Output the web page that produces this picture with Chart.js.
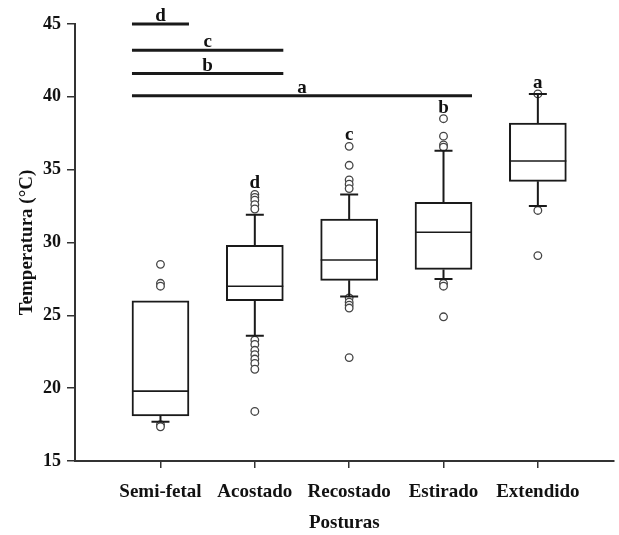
<!DOCTYPE html>
<html>
<head>
<meta charset="utf-8">
<script src="https://cdn.jsdelivr.net/npm/chart.js@4.4.1/dist/chart.umd.min.js"></script>
<style>
  html, body { margin: 0; padding: 0; background: #fff; }
  #wrap { width: 619px; height: 535px; }
</style>
</head>
<body>
<div id="wrap"><canvas id="grafico"></canvas></div>
<script>
// datos
const posturas = ["Semi-fetal", "Acostado", "Recostado", "Estirado", "Extendido"];
const q1 = [18.1, 26.0, 27.4, 28.15, 34.2];
const mediana = [19.8, 27.0, 28.8, 30.7, 35.6];
const q3 = [26.0, 29.8, 31.6, 32.75, 38.2];
const bigoteInf = [17.7, 23.6, 26.3, 27.5, 32.5];
const bigoteSup = [null, 31.9, 33.3, 36.3, 40.2];
const atipicos = [
  [28.5, 27.2, 27.0, 17.5, 17.35],
  [33.3, 33.1, 32.9, 32.6, 32.3, 23.3, 23.0, 22.6, 22.3, 22.0, 21.7, 21.3, 18.4],
  [36.6, 35.3, 34.3, 34.0, 33.7, 26.2, 25.9, 25.7, 25.5, 22.1],
  [38.5, 37.3, 36.7, 36.55, 27.2, 27.0, 24.9],
  [40.2, 32.2, 29.1]
];
const letrasCaja = ["", "d", "c", "b", "a"];
// barras de significancia (índices de categoría)
const sigLetra = ["d", "c", "b", "a"];
const sigY = [45, 43.2, 41.6, 40.07];
const sigDesde = [0, 0, 0, 0];
const sigHasta = [0, 1, 1, 3];
const yTicks = [15, 20, 25, 30, 35, 40, 45];

const ANCHO = 57, TAPA = 9, NEGRO = "#1a1a1a";
const fuente = { family: "'Liberation Serif', 'Times New Roman', serif", weight: "bold", size: 19 };

const cajas = {
  id: "cajas",
  afterDatasetsDraw(chart) {
    const { ctx } = chart, xs = chart.scales.x, ys = chart.scales.y;
    ctx.save();
    ctx.strokeStyle = NEGRO;
    ctx.fillStyle = "#111";
    posturas.forEach((p, i) => {
      const cx = xs.getPixelForValue(i + 1);
      // mediana
      ctx.lineWidth = 1.6;
      ctx.beginPath();
      ctx.moveTo(cx - ANCHO / 2, ys.getPixelForValue(mediana[i]));
      ctx.lineTo(cx + ANCHO / 2, ys.getPixelForValue(mediana[i]));
      ctx.stroke();
      // bigotes
      ctx.lineWidth = 2;
      [[q1[i], bigoteInf[i]], [q3[i], bigoteSup[i]]].forEach(([a, b]) => {
        if (b == null) return;
        const ya = ys.getPixelForValue(a), yb = ys.getPixelForValue(b);
        ctx.beginPath();
        ctx.moveTo(cx, ya); ctx.lineTo(cx, yb);
        ctx.moveTo(cx - TAPA, yb); ctx.lineTo(cx + TAPA, yb);
        ctx.stroke();
      });
      // letra sobre la caja
      if (letrasCaja[i]) {
        const tope = Math.max(bigoteSup[i] || q3[i], ...atipicos[i]);
        ctx.font = `bold ${fuente.size}px ${fuente.family}`;
        ctx.textAlign = "center";
        ctx.textBaseline = "alphabetic";
        ctx.fillText(letrasCaja[i], cx, ys.getPixelForValue(tope) - 6);
      }
    });
    // barras de significancia
    sigLetra.forEach((l, k) => {
      const x0 = xs.getPixelForValue(sigDesde[k] + 1) - ANCHO / 2;
      const x1 = xs.getPixelForValue(sigHasta[k] + 1) + ANCHO / 2;
      const y = ys.getPixelForValue(sigY[k]);
      ctx.lineWidth = 3;
      ctx.beginPath();
      ctx.moveTo(x0, y); ctx.lineTo(x1, y);
      ctx.stroke();
      ctx.font = `bold ${fuente.size}px ${fuente.family}`;
      ctx.textAlign = "center";
      ctx.textBaseline = "alphabetic";
      ctx.fillText(l, (x0 + x1) / 2, y - 3);
    });
    ctx.restore();
  }
};

new Chart(document.getElementById("grafico"), {
  type: "bar",
  data: {
    datasets: [
      {
        type: "bar",
        data: posturas.map((p, i) => ({ x: i + 1, y: [q1[i], q3[i]] })),
        backgroundColor: "#fff",
        borderColor: NEGRO,
        borderWidth: 2,
        borderSkipped: false,
        barThickness: ANCHO
      },
      {
        type: "scatter",
        data: atipicos.flatMap((lst, i) => lst.map(v => ({ x: i + 1, y: v }))),
        pointRadius: 3.8,
        pointBackgroundColor: "#fff",
        pointBorderColor: "#444",
        pointBorderWidth: 1.3
      }
    ]
  },
  options: {
    responsive: true,
    maintainAspectRatio: false,
    animation: false,
    layout: { padding: { top: 24, right: 0, bottom: 0, left: 0 } },
    plugins: { legend: { display: false }, tooltip: { enabled: false } },
    scales: {
      x: {
        type: "linear",
        offset: false,
        min: 0.094,
        max: 5.804,
        afterBuildTicks: s => { s.ticks = posturas.map((p, i) => ({ value: i + 1 })); },
        afterFit: s => { s.height = 74; s.paddingRight = 0; s.paddingLeft = 0; },
        ticks: { callback: (v, i) => posturas[i], font: fuente, color: "#111", padding: 13, autoSkip: false, maxRotation: 0 },
        grid: { offset: false, drawOnChartArea: false, drawTicks: true, tickLength: 7, color: "#333", lineWidth: 1.5 },
        border: { color: "#333", width: 2 },
        title: { display: true, text: "Posturas", font: fuente, color: "#111", padding: { top: 0, bottom: 1 } }
      },
      y: {
        min: 15,
        max: 45,
        afterBuildTicks: s => { s.ticks = yTicks.map(v => ({ value: v })); },
        afterFit: s => { s.width = 75; s.paddingRight = 0; s.paddingLeft = 0; },
        ticks: { font: { ...fuente, size: 18 }, color: "#111", padding: 6 },
        grid: { drawOnChartArea: false, drawTicks: true, tickLength: 8, color: "#333", lineWidth: 1.5 },
        border: { color: "#333", width: 2 },
        title: { display: true, text: "Temperatura (°C)", font: fuente, color: "#111", padding: { top: 16, bottom: 0 } }
      }
    }
  },
  plugins: [cajas]
});
</script>
</body>
</html>
